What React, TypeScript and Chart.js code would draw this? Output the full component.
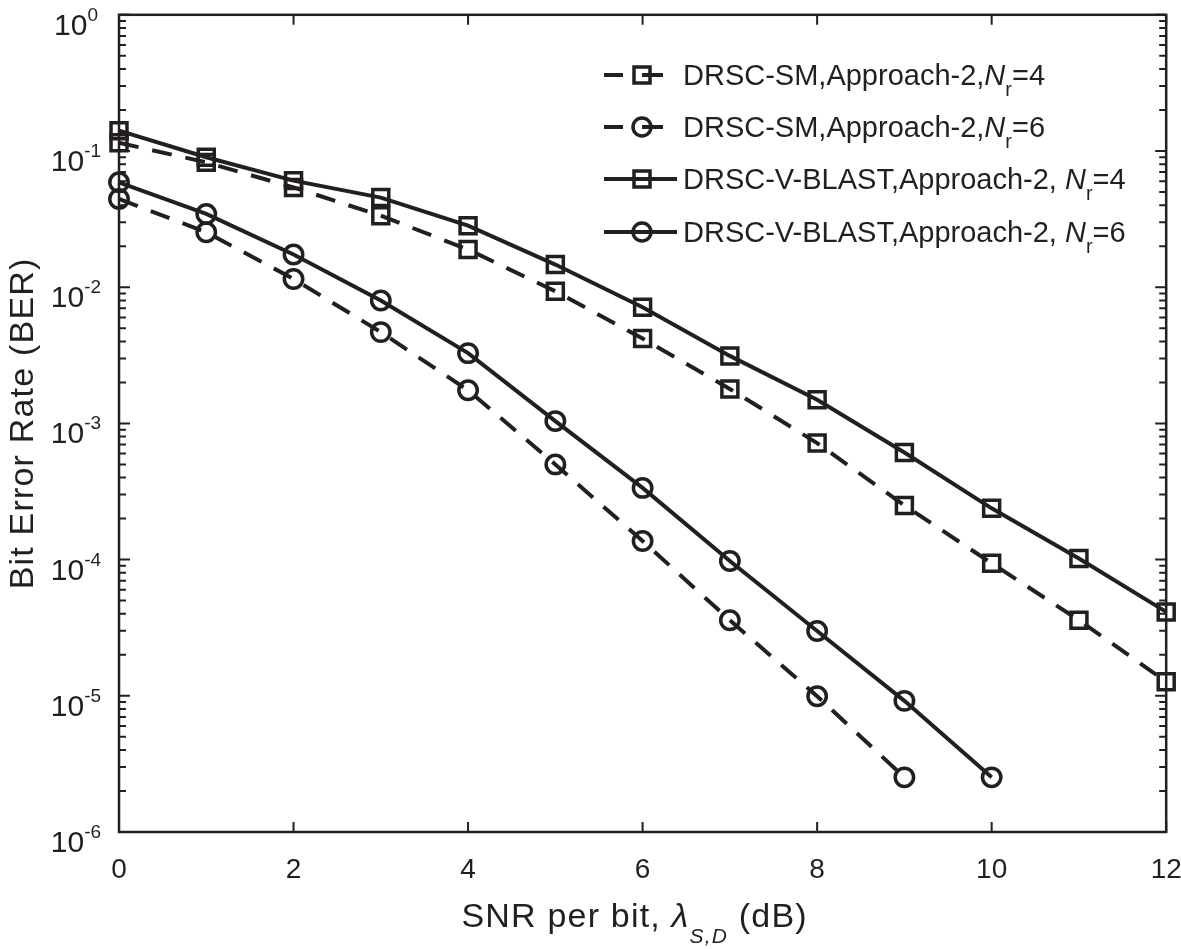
import React, { useEffect, useRef } from "react";
import { Chart, registerables } from "chart.js";

Chart.register(...registerables);

// ---------------- data ----------------
const snrDb = [0, 1, 2, 3, 4, 5, 6, 7, 8, 9, 10, 11, 12];

const smNr4 = [0.115, 0.0825, 0.054, 0.0335, 0.0189, 0.00934, 0.0042, 0.00179, 7.17e-4, 2.5e-4, 9.4e-5, 3.59e-5, 1.27e-5];
const smNr6 = [0.0445, 0.0253, 0.0115, 0.00468, 0.00175, 5.0e-4, 1.37e-4, 3.59e-5, 9.93e-6, 2.52e-6];
const vblastNr4 = [0.141, 0.09, 0.0606, 0.0455, 0.0283, 0.01466, 0.00713, 0.00313, 0.00149, 6.12e-4, 2.38e-4, 1.02e-4, 4.13e-5];
const vblastNr6 = [0.0589, 0.0345, 0.0174, 0.00798, 0.00328, 0.00104, 3.36e-4, 9.77e-5, 2.99e-5, 9.18e-6, 2.52e-6];

const seriesNames = ["DRSC-SM,Approach-2,", "DRSC-SM,Approach-2,", "DRSC-V-BLAST,Approach-2, ", "DRSC-V-BLAST,Approach-2, "];
const seriesNr = ["4", "6", "4", "6"];
const seriesMarkers = ["rect", "circle", "rect", "circle"];
const seriesDashed = [true, true, false, false];

const xTickValues = [0, 2, 4, 6, 8, 10, 12];
const yExponents = [0, -1, -2, -3, -4, -5, -6];

const xTitleMain = "SNR per bit, ";
const xTitleSymbol = "\u03BB";
const xTitleSub = "S,D";
const xTitleUnit = " (dB)";
const yTitle = "Bit Error Rate (BER)";

// ---------------- style ----------------
const INK = "#231f20";
const FONT = '"Liberation Sans", Arial, Helvetica, sans-serif';
const DASH = [20, 14];

function font(size: number, italic = false) {
  return `${italic ? "italic " : ""}${size}px ${FONT}`;
}

type Part = { text: string; size: number; italic?: boolean; dy?: number };

function drawParts(ctx: CanvasRenderingContext2D, parts: Part[], x: number, y: number, align: "left" | "center" | "right") {
  ctx.textAlign = "left";
  ctx.textBaseline = "alphabetic";
  const widths = parts.map((p) => {
    ctx.font = font(p.size, p.italic);
    return ctx.measureText(p.text).width;
  });
  const total = widths.reduce((s, w) => s + w, 0);
  let cx = align === "center" ? x - total / 2 : align === "right" ? x - total : x;
  parts.forEach((p, i) => {
    ctx.font = font(p.size, p.italic);
    ctx.fillText(p.text, cx, y + (p.dy || 0));
    cx += widths[i];
  });
}

const axesPlugin = {
  id: "matlabAxes",
  afterDraw(chart: any) {
    const { ctx, chartArea: a, scales } = chart;
    const xs = scales.x;
    const ys = scales.y;
    ctx.save();
    ctx.strokeStyle = INK;
    ctx.fillStyle = INK;
    ctx.setLineDash([]);

    // ticks
    ctx.lineWidth = 2;
    ctx.beginPath();
    for (const t of xTickValues) {
      const px = xs.getPixelForValue(t);
      ctx.moveTo(px, a.bottom);
      ctx.lineTo(px, a.bottom - 10);
      ctx.moveTo(px, a.top);
      ctx.lineTo(px, a.top + 10);
    }
    for (const e of yExponents) {
      const base = Math.pow(10, e);
      const py = ys.getPixelForValue(base);
      ctx.moveTo(a.left, py);
      ctx.lineTo(a.left + 11, py);
      ctx.moveTo(a.right, py);
      ctx.lineTo(a.right - 11, py);
      if (e > -6) {
        for (let m = 2; m <= 9; m++) {
          const v = m * Math.pow(10, e - 1);
          const pm = ys.getPixelForValue(v);
          ctx.moveTo(a.left, pm);
          ctx.lineTo(a.left + 7, pm);
          ctx.moveTo(a.right, pm);
          ctx.lineTo(a.right - 7, pm);
        }
      }
    }
    ctx.stroke();

    // box
    ctx.lineWidth = 2.5;
    ctx.strokeRect(a.left, a.top, a.right - a.left, a.bottom - a.top);

    // x tick labels
    for (const t of xTickValues) {
      const px = xs.getPixelForValue(t);
      drawParts(ctx, [{ text: String(t), size: 28 }], px, a.bottom + 46, "center");
    }
    // y tick labels
    for (const e of yExponents) {
      const py = ys.getPixelForValue(Math.pow(10, e));
      drawParts(
        ctx,
        [
          { text: "10", size: 30 },
          { text: String(e), size: 19, dy: -14 },
        ],
        76,
        py + 20,
        "center"
      );
    }

    // x title
    const cxTitle = (a.left + a.right) / 2;
    (ctx as any).letterSpacing = "1.2px";
    drawParts(
      ctx,
      [
        { text: xTitleMain, size: 34 },
        { text: xTitleSymbol, size: 34, italic: true },
        { text: xTitleSub, size: 21, italic: true, dy: 16 },
        { text: xTitleUnit, size: 34 },
      ],
      cxTitle - 8,
      927,
      "center"
    );

    // y title
    ctx.save();
    ctx.translate(33, (a.top + a.bottom) / 2);
    ctx.rotate(-Math.PI / 2);
    drawParts(ctx, [{ text: yTitle, size: 34 }], 0, 0, "center");
    ctx.restore();
    (ctx as any).letterSpacing = "0px";

    // legend
    const rows = [75, 127, 179, 232];
    rows.forEach((ry, i) => {
      ctx.lineWidth = 4;
      ctx.strokeStyle = INK;
      ctx.beginPath();
      if (seriesDashed[i]) {
        ctx.moveTo(604, ry);
        ctx.lineTo(623, ry);
        ctx.moveTo(642, ry);
        ctx.lineTo(663, ry);
      } else {
        ctx.moveTo(604, ry);
        ctx.lineTo(677, ry);
      }
      ctx.stroke();
      ctx.lineWidth = 3.5;
      ctx.beginPath();
      if (seriesMarkers[i] === "rect") {
        ctx.rect(642 - 8, ry - 8, 16, 16);
      } else {
        ctx.arc(642, ry, 9, 0, Math.PI * 2);
      }
      ctx.stroke();
      drawParts(
        ctx,
        [
          { text: seriesNames[i], size: 29 },
          { text: "N", size: 29, italic: true },
          { text: "r", size: 20, dy: 11 },
          { text: "=" + seriesNr[i], size: 29 },
        ],
        683,
        ry + 10,
        "left"
      );
    });

    ctx.restore();
  },
};

function makeDataset(values: number[], idx: number) {
  return {
    label: seriesNames[idx] + "Nr=" + seriesNr[idx],
    data: values.map((v, i) => ({ x: snrDb[i], y: v })),
    borderColor: INK,
    backgroundColor: "rgba(0,0,0,0)",
    borderWidth: 4,
    borderDash: seriesDashed[idx] ? DASH : [],
    pointStyle: seriesMarkers[idx],
    pointRadius: seriesMarkers[idx] === "rect" ? 11.3 : 9.2,
    pointBorderWidth: 3.5,
    pointBorderColor: INK,
    pointBackgroundColor: "rgba(0,0,0,0)",
    tension: 0,
    clip: false as any,
  };
}

export default function App() {
  const canvasRef = useRef<HTMLCanvasElement | null>(null);

  useEffect(() => {
    document.body.style.margin = "0";
    document.body.style.background = "#ffffff";
    const canvas = canvasRef.current;
    if (!canvas) return;
    const chart = new Chart(canvas, {
      type: "line",
      data: {
        datasets: [
          makeDataset(smNr4, 0),
          makeDataset(smNr6, 1),
          makeDataset(vblastNr4, 2),
          makeDataset(vblastNr6, 3),
        ],
      },
      options: {
        responsive: false,
        animation: false,
        devicePixelRatio: 1,
        layout: { padding: { left: 119, top: 14, right: 14, bottom: 117 } },
        plugins: { legend: { display: false }, tooltip: { enabled: false }, title: { display: false } },
        scales: {
          x: { type: "linear", min: 0, max: 12, display: false },
          y: { type: "logarithmic", min: 1e-6, max: 1, display: false },
        },
      },
      plugins: [axesPlugin],
    });
    return () => chart.destroy();
  }, []);

  return (
    <div style={{ width: 1181, height: 949, background: "#fff" }}>
      <canvas ref={canvasRef} width={1181} height={949} style={{ display: "block" }} />
    </div>
  );
}
